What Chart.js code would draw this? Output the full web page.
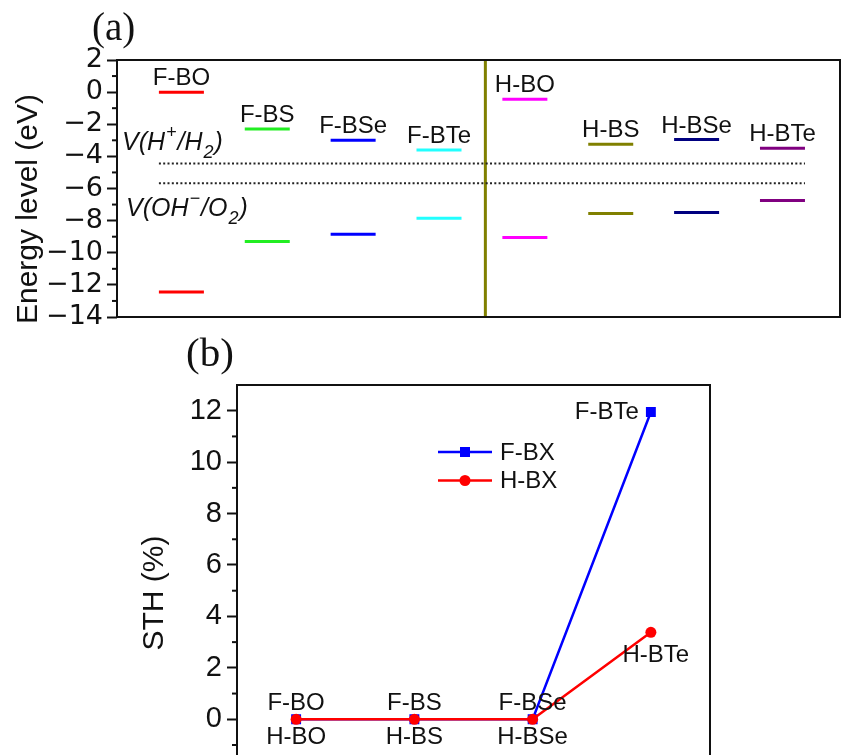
<!DOCTYPE html>
<html>
<head>
<meta charset="utf-8">
<script src="https://cdn.jsdelivr.net/npm/chart.js@4.4.0/dist/chart.umd.min.js"></script>
<style>
  html, body { margin: 0; padding: 0; background: #fff; overflow: hidden; }
  #wrap { position: relative; width: 842px; height: 755px; overflow: hidden; }
  #levelsChart { position: absolute; left: 0; top: 0; }
  #sthChart { position: absolute; left: 0; top: 330px; }
</style>
</head>
<body>
<div id="wrap">
  <canvas id="levelsChart" width="842" height="360"></canvas>
  <canvas id="sthChart" width="842" height="470"></canvas>
</div>
<script>
// (a) band edges
const materials = ['F-BO', 'F-BS', 'F-BSe', 'F-BTe', 'H-BO', 'H-BS', 'H-BSe', 'H-BTe'];
const cbmLevels = [0.0, -2.3, -3.0, -3.6, -0.45, -3.25, -2.95, -3.5];
const vbmLevels = [-12.45, -9.3, -8.85, -7.85, -9.05, -7.55, -7.5, -6.75];
const levelColors = ['#ff0000', '#22ee22', '#0000ff', '#22ffff', '#ff00ff', '#808000', '#000080', '#800080'];
const redoxLevels = [-4.44, -5.67];
const energyTicks = [2, 0, -2, -4, -6, -8, -10, -12, -14];
const splitAt = 3.54;

// (b) STH
const sthCategories = ['BO', 'BS', 'BSe', 'BTe'];
const fbxNames = ['F-BO', 'F-BS', 'F-BSe', 'F-BTe'];
const hbxNames = ['H-BO', 'H-BS', 'H-BSe', 'H-BTe'];
const fbxSTH = [0, 0, 0, 11.95];
const hbxSTH = [0, 0, 0, 3.38];
const sthTicks = [0, 2, 4, 6, 8, 10, 12];

const SANS = "'Liberation Sans', Arial, sans-serif";
const SERIF = "'Liberation Serif', 'Times New Roman', serif";
const fmt = v => String(v).replace('-', '\u2212');
const halfBar = 0.262;

function drawFrame(chart) {
    const { ctx, chartArea: a } = chart;
    ctx.save();
    ctx.strokeStyle = '#111';
    ctx.lineWidth = 2;
    ctx.strokeRect(a.left, a.top, a.right - a.left, a.bottom - a.top);
    ctx.restore();
}

function drawMinorTicks(chart, from, to) {
    const { ctx } = chart;
    const y = chart.scales.y;
    ctx.save();
    ctx.strokeStyle = '#111';
    ctx.lineWidth = 2;
    for (let v = from; v <= to; v += 2) {
        const py = y.getPixelForValue(v);
        ctx.beginPath();
        ctx.moveTo(y.right - 5, py);
        ctx.lineTo(y.right, py);
        ctx.stroke();
    }
    ctx.restore();
}

function drawYTitle(chart, text, cx, cy, size) {
    const { ctx } = chart;
    ctx.save();
    ctx.translate(cx, cy);
    ctx.rotate(-Math.PI / 2);
    ctx.font = size + 'px ' + SANS;
    ctx.fillStyle = '#111';
    ctx.textAlign = 'center';
    ctx.textBaseline = 'middle';
    ctx.fillText(text, 0, 0);
    ctx.restore();
}

// text with super/subscripts: [text, shift] shift -1 sup, 1 sub
function drawRich(ctx, x, y, parts) {
    parts.forEach(([t, s]) => {
        ctx.font = s === 0 ? 'italic 25px ' + SANS : 'italic 18px ' + SANS;
        const dy = s < 0 ? -12 : (s > 0 ? 8 : 0);
        ctx.fillText(t, x, y + dy);
        x += ctx.measureText(t).width + 1;
    });
}

const levelsDecor = {
    id: 'levelsDecor',
    afterDraw(chart) {
        const { ctx, chartArea: a } = chart;
        const xs = chart.scales.x, ys = chart.scales.y;
        drawFrame(chart);
        drawMinorTicks(chart, -13, 1);
        ctx.save();
        ctx.fillStyle = '#111';
        ctx.font = '24px ' + SANS;
        ctx.textAlign = 'center';
        ctx.textBaseline = 'alphabetic';
        materials.forEach((m, i) => {
            ctx.fillText(m, xs.getPixelForValue(i), ys.getPixelForValue(cbmLevels[i]) - 7);
        });
        ctx.textAlign = 'left';
        drawRich(ctx, a.left + 5, ys.getPixelForValue(redoxLevels[0]) - 13,
            [['V(H', 0], ['+', -1], ['/H', 0], ['2', 1], [')', 0]]);
        drawRich(ctx, a.left + 9, ys.getPixelForValue(redoxLevels[1]) + 33,
            [['V(OH', 0], ['\u2212', -1], ['/O', 0], ['2', 1], [')', 0]]);
        ctx.font = '39px ' + SERIF;
        ctx.fillText('(a)', 92, 40);
        ctx.restore();
        drawYTitle(chart, 'Energy level (eV)', 29, 209, 30);
    }
};

const sthDecor = {
    id: 'sthDecor',
    afterDraw(chart) {
        const { ctx, chartArea: a } = chart;
        const xs = chart.scales.x, ys = chart.scales.y;
        drawFrame(chart);
        drawMinorTicks(chart, -1, 11);
        ctx.save();
        ctx.fillStyle = '#111';
        ctx.font = '24px ' + SANS;
        ctx.textBaseline = 'middle';
        fbxNames.forEach((n, i) => {
            const px = xs.getPixelForValue(i), py = ys.getPixelForValue(fbxSTH[i]);
            if (i === fbxNames.length - 1) {
                ctx.textAlign = 'right';
                ctx.fillText(n, px - 12, py);
            } else {
                ctx.textAlign = 'center';
                ctx.fillText(n, px, py - 16);
            }
        });
        hbxNames.forEach((n, i) => {
            const px = xs.getPixelForValue(i), py = ys.getPixelForValue(hbxSTH[i]);
            ctx.textAlign = 'center';
            if (i === hbxNames.length - 1) {
                ctx.fillText(n, px + 5, py + 23);
            } else {
                ctx.fillText(n, px, py + 18);
            }
        });

        // legend
        const lx = a.left + 201, ly = a.top + 67;
        chart.data.datasets.forEach((ds, k) => {
            const y = ly + k * 28.5;
            ctx.strokeStyle = ds.borderColor;
            ctx.lineWidth = 2.5;
            ctx.beginPath();
            ctx.moveTo(lx, y);
            ctx.lineTo(lx + 54, y);
            ctx.stroke();
            ctx.fillStyle = ds.backgroundColor;
            ctx.beginPath();
            if (ds.pointStyle === 'rect') {
                ctx.rect(lx + 27 - 5, y - 5, 10, 10);
            } else {
                ctx.arc(lx + 27, y, 5.5, 0, Math.PI * 2);
            }
            ctx.fill();
            ctx.fillStyle = '#111';
            ctx.textAlign = 'left';
            ctx.fillText(ds.label, lx + 62, y + 1);
        });

        ctx.textBaseline = 'alphabetic';
        ctx.font = '41px ' + SERIF;
        ctx.fillText('(b)', 186, 36);
        ctx.restore();
        drawYTitle(chart, 'STH (%)', 155, 263, 30);
    }
};

const levelsChart = new Chart(document.getElementById('levelsChart'), {
    type: 'scatter',
    data: {
        datasets: [{
            label: 'CBM',
            data: materials.map((m, i) => ({ x: i, y: cbmLevels[i] })),
            pointStyle: 'line',
            pointRadius: 22.5,
            pointBorderWidth: 3,
            pointBorderColor: levelColors,
            pointBackgroundColor: levelColors
        }, {
            label: 'VBM',
            data: materials.map((m, i) => ({ x: i, y: vbmLevels[i] })),
            pointStyle: 'line',
            pointRadius: 22.5,
            pointBorderWidth: 3,
            pointBorderColor: levelColors,
            pointBackgroundColor: levelColors
        }, {
            label: 'V(H+/H2)',
            data: [{ x: -halfBar, y: redoxLevels[0] }, { x: materials.length - 1 + halfBar, y: redoxLevels[0] }],
            showLine: true,
            borderColor: '#222',
            borderWidth: 2,
            borderDash: [2, 2.3],
            pointRadius: 0
        }, {
            label: 'V(OH-/O2)',
            data: [{ x: -halfBar, y: redoxLevels[1] }, { x: materials.length - 1 + halfBar, y: redoxLevels[1] }],
            showLine: true,
            borderColor: '#222',
            borderWidth: 2,
            borderDash: [2, 2.3],
            pointRadius: 0
        }, {
            label: 'split',
            data: [{ x: splitAt, y: energyTicks[energyTicks.length - 1] }, { x: splitAt, y: energyTicks[0] }],
            showLine: true,
            borderColor: '#808000',
            borderWidth: 3,
            pointRadius: 0
        }]
    },
    options: {
        responsive: false,
        animation: false,
        events: [],
        layout: { autoPadding: false, padding: { top: 60, right: 2, bottom: 43, left: 0 } },
        plugins: {
            legend: { display: false },
            tooltip: { enabled: false }
        },
        scales: {
            x: { type: 'linear', display: false, min: -0.75, max: 7.67 },
            y: {
                min: -14,
                max: 2,
                afterFit: s => { s.width = 117; },
                afterBuildTicks: s => { s.ticks = energyTicks.map(v => ({ value: v })); },
                border: { display: false },
                grid: { drawOnChartArea: false, tickLength: 10, tickWidth: 2, tickColor: '#111' },
                ticks: {
                    autoSkip: false,
                    padding: 4,
                    color: '#111',
                    font: { family: "'DejaVu Sans', sans-serif", size: 27 },
                    callback: v => fmt(v)
                }
            }
        }
    },
    plugins: [levelsDecor]
});

const sthChart = new Chart(document.getElementById('sthChart'), {
    type: 'line',
    data: {
        labels: sthCategories,
        datasets: [{
            label: 'F-BX',
            data: fbxSTH,
            borderColor: '#0000ff',
            backgroundColor: '#0000ff',
            borderWidth: 2.5,
            pointStyle: 'rect',
            pointRadius: 7,
            pointBorderWidth: 0,
            order: 2
        }, {
            label: 'H-BX',
            data: hbxSTH,
            borderColor: '#ff0000',
            backgroundColor: '#ff0000',
            borderWidth: 2.5,
            pointStyle: 'circle',
            pointRadius: 5.5,
            pointBorderWidth: 0,
            order: 1
        }]
    },
    options: {
        responsive: false,
        animation: false,
        events: [],
        layout: { autoPadding: false, padding: { top: 55, right: 132, bottom: 29.3, left: 0 } },
        plugins: {
            legend: { display: false },
            tooltip: { enabled: false }
        },
        scales: {
            x: { display: false, offset: true },
            y: {
                min: -2,
                max: 13,
                afterFit: s => { s.width = 237; },
                afterBuildTicks: s => { s.ticks = sthTicks.map(v => ({ value: v })); },
                border: { display: false },
                grid: { drawOnChartArea: false, tickLength: 10, tickWidth: 2, tickColor: '#111' },
                ticks: {
                    autoSkip: false,
                    padding: 5,
                    color: '#111',
                    font: { family: SANS, size: 29 },
                    callback: v => fmt(v)
                }
            }
        }
    },
    plugins: [sthDecor]
});
</script>
</body>
</html>
